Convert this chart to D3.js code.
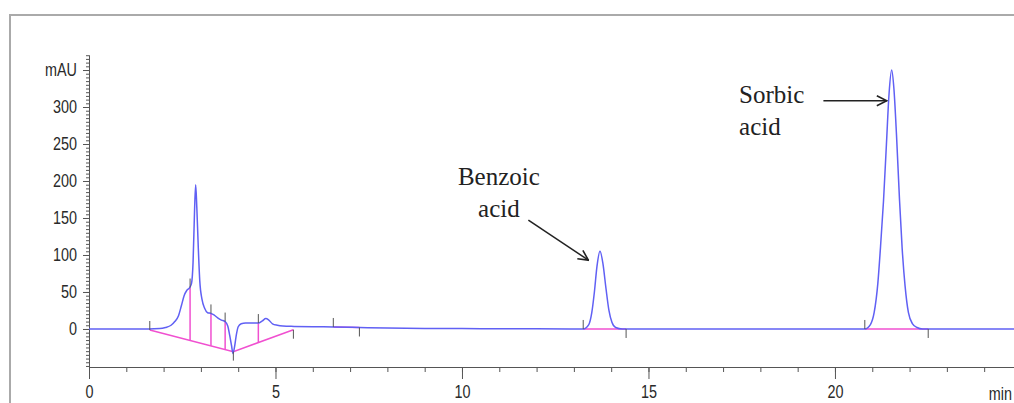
<!DOCTYPE html>
<html>
<head>
<meta charset="utf-8">
<script src="https://cdn.jsdelivr.net/npm/d3@7"></script>
<style>
  body { margin: 0; background: #fff; }
  .axis text { font-family: "Liberation Sans Narrow", "Arial Narrow", "Liberation Sans", sans-serif; fill: #2a2a2a; }
  .axis path, .axis line { stroke: #555; }
  .note { font-family: "Liberation Serif", "Times New Roman", serif; font-size: 25px; fill: #222; }
</style>
</head>
<body>
<script>
// chromatogram trace: retention time (min) and absorbance (mAU)
var rt = [0, 1.0, 1.6, 1.9, 2.05, 2.2, 2.3, 2.4, 2.48, 2.55, 2.62, 2.70, 2.75, 2.79, 2.83, 2.86,
  2.89, 2.93, 2.97, 3.03, 3.10, 3.18, 3.27, 3.35, 3.45, 3.55, 3.65, 3.72, 3.77, 3.82, 3.86,
  3.90, 3.95, 4.00, 4.08, 4.2, 4.4, 4.54, 4.65, 4.74, 4.82, 4.92, 5.05, 5.2, 5.5, 6.0, 6.55,
  7.25, 8.0, 9.0, 10.0, 11.0, 12.0, 13.0, 13.25,
  13.40, 13.48, 13.55, 13.62, 13.70, 13.78, 13.86, 13.94, 14.02, 14.12, 14.30,
  15.0, 18.0, 20.8,
  20.95, 21.05, 21.15, 21.22, 21.30, 21.38, 21.45, 21.52, 21.58, 21.65, 21.73, 21.80, 21.88,
  21.97, 22.08, 22.20, 22.35, 22.5, 24.8];
var mAU = [0, 0, 0, 0.5, 2, 5, 10, 18, 32, 45, 52, 56, 62, 90, 160, 195,
  165, 110, 65, 40, 28, 22, 21, 19, 15, 12, 10, 4, -8, -22, -33,
  -25, -8, 3, 7, 8, 8, 8, 11, 14, 12, 7, 5, 4, 3.5, 3, 2.7,
  2, 1.2, 0.8, 0.5, 0.3, 0.2, 0, 0,
  6, 22, 50, 85, 105, 88, 55, 25, 9, 2, 0,
  0, 0, 0,
  6, 22, 62, 110, 172, 250, 318, 350, 325, 262, 175, 110, 58,
  22, 7, 2, 0, 0, 0];

// integration baselines (pink)
var baseSegments = [
  [[1.63, -1.4], [3.87, -30.6], [5.48, -1]],
  [[6.55, 2.7], [7.25, 2.0]],
  [[13.25, 0], [14.40, 0]],
  [[20.80, 0], [22.50, 0]]
];
// drop lines: time, top, bottom
var dropTimes = [2.71, 3.27, 3.65, 4.54];
var dropTops = [56, 21, 10, 8];
var dropBottoms = [-15.5, -22.8, -27.8, -18.3];

// peak start / end marks: time, value, direction (1 = up, -1 = down)
var markTimes = [1.63, 2.71, 3.27, 3.65, 3.87, 4.54, 5.48, 6.55, 7.25, 13.25, 14.40, 20.80, 22.50];
var markValues = [-1.4, 56, 21, 10, -30.6, 8, -1, 2.7, 2.0, 0, 0, 0, 0];
var markDirs = [1, 1, 1, 1, -1, 1, -1, 1, -1, 1, -1, 1, -1];

// axis ticks
var xMajor = [0, 5, 10, 15, 20];
var yMajor = [0, 50, 100, 150, 200, 250, 300, 350];

// annotations (data units)
var noteLines = [["Benzoic", 10.99, 194.6, "middle"], ["acid", 10.99, 151, "middle"],
                 ["Sorbic", 17.43, 305, "start"], ["acid", 17.43, 262, "start"]];
var arrows = [[11.78, 147, 13.39, 93], [19.69, 308.5, 21.39, 308.5]];

var width = 1014, height = 403;
var narrow = "scale(0.8,1)";   // no condensed font installed, squeeze instead

var x = d3.scaleLinear().domain([0, 24.8]).range([89, 1014]);
var y = d3.scaleLinear().domain([-51.4, 370.3]).range([367, 55]);

var svg = d3.select("body").append("svg")
    .attr("width", width)
    .attr("height", height);

svg.append("rect").attr("width", width).attr("height", height).attr("fill", "#fff");

// outer frame
svg.append("rect")
    .attr("x", 10).attr("y", 15)
    .attr("width", width + 20).attr("height", height + 20)
    .attr("fill", "none")
    .attr("stroke", "#aaa")
    .attr("stroke-width", 2);

svg.append("defs").append("marker")
    .attr("id", "head")
    .attr("viewBox", "0 0 12 12")
    .attr("refX", 11).attr("refY", 6)
    .attr("markerWidth", 12).attr("markerHeight", 12)
    .attr("markerUnits", "userSpaceOnUse")
    .attr("orient", "auto")
  .append("path")
    .attr("d", "M1,1 L11,6 L1,11")
    .attr("fill", "none")
    .attr("stroke", "#222")
    .attr("stroke-width", 1.6);

// y axis: minor then major
svg.append("g")
    .attr("class", "axis")
    .attr("transform", "translate(" + x(0) + ",0)")
    .call(d3.axisLeft(y).tickValues(d3.range(-50, 371, 5)).tickSize(3).tickSizeOuter(0).tickFormat(""));

svg.append("g")
    .attr("class", "axis")
    .attr("transform", "translate(" + x(0) + ",0)")
    .call(d3.axisLeft(y).tickValues(yMajor).tickSize(6).tickPadding(9).tickSizeOuter(0)
      .tickFormat(function(d) { return d === 350 ? "mAU" : d; }))
    .call(function(g) {
      g.selectAll("text").style("font-size", "18px").attr("transform", narrow);
    });

// x axis: minor then major
svg.append("g")
    .attr("class", "axis")
    .attr("transform", "translate(0," + y(-51.4) + ")")
    .call(d3.axisBottom(x).tickValues(d3.range(0, 25, 1)).tickSize(5).tickSizeOuter(0).tickFormat(""));

svg.append("g")
    .attr("class", "axis")
    .attr("transform", "translate(0," + y(-51.4) + ")")
    .call(d3.axisBottom(x).tickValues(xMajor).tickSize(12).tickPadding(6).tickSizeOuter(0))
    .call(function(g) {
      g.selectAll("text").style("font-size", "18px").attr("transform", narrow);
    });

svg.append("text")
    .attr("transform", "translate(1012,400) " + narrow)
    .attr("text-anchor", "end")
    .style("font-family", "'Liberation Sans Narrow', 'Arial Narrow', 'Liberation Sans', sans-serif")
    .style("font-size", "18px")
    .style("fill", "#2a2a2a")
    .text("min");

// integration baselines
var line = d3.line().x(function(d) { return x(d[0]); }).y(function(d) { return y(d[1]); });

svg.selectAll(".base")
    .data(baseSegments)
  .enter().append("path")
    .attr("class", "base")
    .attr("d", line)
    .attr("fill", "none")
    .attr("stroke", "#f050d0")
    .attr("stroke-width", 1.5);

svg.selectAll(".drop")
    .data(dropTimes)
  .enter().append("line")
    .attr("x1", function(d) { return x(d); })
    .attr("x2", function(d) { return x(d); })
    .attr("y1", function(d, i) { return y(dropTops[i]); })
    .attr("y2", function(d, i) { return y(dropBottoms[i]); })
    .attr("stroke", "#f050d0")
    .attr("stroke-width", 1.5);

// the signal
var trace = rt.map(function(t, i) { return [t, mAU[i]]; });

svg.append("path")
    .datum(trace)
    .attr("d", d3.line()
      .x(function(d) { return x(d[0]); })
      .y(function(d) { return y(d[1]); })
      .curve(d3.curveMonotoneX))
    .attr("fill", "none")
    .attr("stroke", "#6060f4")
    .attr("stroke-width", 1.5);

// start / end marks
svg.selectAll(".mark")
    .data(markTimes)
  .enter().append("line")
    .attr("x1", function(d) { return x(d); })
    .attr("x2", function(d) { return x(d); })
    .attr("y1", function(d, i) { return y(markValues[i]); })
    .attr("y2", function(d, i) { return y(markValues[i]) - 9 * markDirs[i]; })
    .attr("stroke", "#555")
    .attr("stroke-width", 1);

// annotations
svg.selectAll(".note")
    .data(noteLines)
  .enter().append("text")
    .attr("class", "note")
    .attr("x", function(d) { return x(d[1]); })
    .attr("y", function(d) { return y(d[2]); })
    .attr("text-anchor", function(d) { return d[3]; })
    .text(function(d) { return d[0]; });

svg.selectAll(".arrow")
    .data(arrows)
  .enter().append("line")
    .attr("x1", function(d) { return x(d[0]); })
    .attr("y1", function(d) { return y(d[1]); })
    .attr("x2", function(d) { return x(d[2]); })
    .attr("y2", function(d) { return y(d[3]); })
    .attr("stroke", "#222")
    .attr("stroke-width", 1.5)
    .attr("marker-end", "url(#head)");
</script>
</body>
</html>
